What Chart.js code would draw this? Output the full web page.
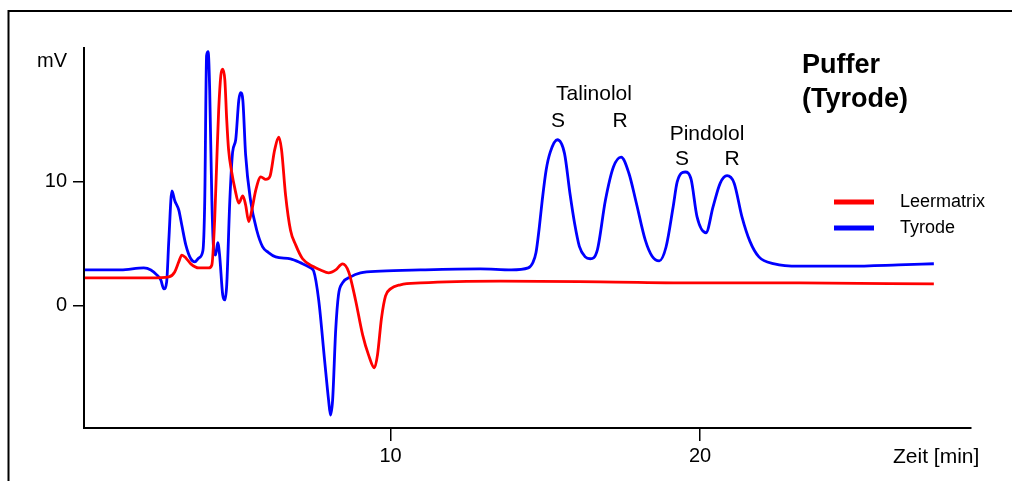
<!DOCTYPE html>
<html>
<head>
<meta charset="utf-8">
<script src="https://cdn.jsdelivr.net/npm/chart.js@4"></script>
<style>
  html, body { margin: 0; padding: 0; background: #fff; }
  #wrap { width: 1012px; height: 481px; }
</style>
</head>
<body>
<div id="wrap"><canvas id="myChart" width="1012" height="481"></canvas></div>
<script>
const FONT = 'Arial, "Liberation Sans", sans-serif';

// Tyrode (blue) trace, retention time in min / signal in mV
const tyrodeTime = [
   0.13, 1.29, 2.03, 2.26, 2.45, 2.58, 2.68, 2.77, 2.84, 2.94, 3.03, 3.16, 3.26, 3.39,
   3.55, 3.68, 3.81, 3.94, 4.0, 4.06, 4.11, 4.16, 4.23, 4.29, 4.35, 4.42, 4.48, 4.58,
   4.65, 4.71, 4.81, 4.9, 5.0, 5.1, 5.16, 5.23, 5.32, 5.48, 5.68, 5.87, 6.06, 6.29,
   6.77, 7.1, 7.42, 7.52, 7.68, 7.87, 8.0, 8.06, 8.13, 8.23, 8.32, 8.45, 8.71, 9.03,
   9.68, 10.97, 12.9, 13.9, 14.45, 14.6, 14.7, 14.8, 14.9, 15.03, 15.16, 15.39, 15.62,
   15.8, 15.95, 16.1, 16.29, 16.45, 16.68, 16.94, 17.2, 17.45, 17.7, 17.94, 18.23,
   18.45, 18.68, 18.9, 19.13, 19.26, 19.52, 19.71, 19.9, 20.19, 20.42, 20.65, 20.87,
   21.1, 21.35, 21.61, 21.9, 22.4, 23.2, 24.8, 26.4, 27.55
];
const tyrodeMv = [
   2.9, 2.9, 3.06, 2.9, 2.5, 2.1, 1.37, 1.94, 5.3, 9.27, 8.5, 7.74, 6.5, 4.9,
   3.8, 3.55, 3.87, 4.44, 8.5, 20.2, 20.5, 17.4, 8.5, 4.5, 4.1, 5.1, 4.1, 0.9,
   0.48, 1.7, 8.5, 12.4, 13.4, 16.6, 17.2, 16.6, 12.2, 8.5, 6.1, 4.76, 4.3, 3.95,
   3.8, 3.47, 3.06, 2.8, 0.48, -4.35, -7.6, -8.8, -7.6, -1.94, 0.89, 1.85, 2.34, 2.66,
   2.8, 2.9, 2.98, 2.9, 3.06, 3.5, 4.3, 6.2, 8.5, 11.0, 12.4, 13.4, 12.3,
   9.0, 6.6, 4.8, 3.95, 3.8, 4.5, 8.5, 11.2, 12.0, 10.7, 8.3, 5.3,
   4.0, 3.63, 4.75, 8.0, 10.0, 10.8, 10.2, 7.2, 5.9, 8.0, 9.9, 10.5,
   9.9, 7.2, 5.2, 3.95, 3.39, 3.2, 3.2, 3.3, 3.4
];

// Leermatrix (red) trace
const leerTime = [
   0.13, 2.26, 2.84, 3.03, 3.16, 3.26, 3.39, 3.55, 3.81, 4.13, 4.23, 4.32, 4.39, 4.45,
   4.52, 4.58, 4.65, 4.71, 4.77, 4.87, 4.97, 5.1, 5.23, 5.32, 5.42, 5.52, 5.65, 5.81,
   5.97, 6.1, 6.26, 6.39, 6.48, 6.61, 6.77, 6.94, 7.16, 7.52, 7.74, 8.0, 8.23, 8.45,
   8.65, 8.87, 9.1, 9.29, 9.48, 9.58, 9.71, 9.84, 10.0, 10.32, 10.97, 13.55, 16.77,
   19.97, 23.2, 27.55
];
const leerMv = [
   2.26, 2.26, 2.34, 2.74, 3.55, 4.1, 3.87, 3.39, 3.06, 3.06, 3.3, 6.9, 11.8, 15.8,
   18.6, 19.1, 18.2, 15.0, 12.6, 10.8, 9.5, 8.3, 8.87, 8.15, 6.8, 7.7, 9.35, 10.4,
   10.2, 10.4, 12.6, 13.6, 12.6, 8.95, 6.1, 4.9, 3.8, 3.15, 2.9, 2.66, 2.9, 3.39,
   2.74, 0.48, -2.34, -3.95, -5.0, -3.95, -0.97, 0.8, 1.37, 1.7, 1.85, 2.0, 1.94,
   1.85, 1.85, 1.77
];

const xTicks = [10, 20];
const yTicks = [0, 10];

const ctx = document.getElementById("myChart").getContext("2d");

const toPoints = (ts, vs) => ts.map((t, i) => ({ x: t, y: vs[i] }));

// frame, axis captions, peak names, title and legend
const decorations = {
   id: 'decorations',
   afterDraw(chart) {
      const c = chart.ctx;
      c.save();
      c.strokeStyle = '#000';
      c.lineWidth = 2;
      c.beginPath();
      c.moveTo(8.5, 481);
      c.lineTo(8.5, 11);
      c.lineTo(1012, 11);
      c.stroke();

      c.fillStyle = '#000';
      c.textBaseline = 'alphabetic';

      c.font = '20px ' + FONT;
      c.textAlign = 'center';
      c.fillText('mV', 52, 67);

      c.font = '21px ' + FONT;
      c.textAlign = 'left';
      c.fillText('Zeit [min]', 893, 463);

      c.textAlign = 'center';
      c.fillText('Talinolol', 594, 100);
      c.fillText('S', 558, 127);
      c.fillText('R', 620, 127);
      c.fillText('Pindolol', 707, 140);
      c.fillText('S', 682, 165);
      c.fillText('R', 732, 165);

      c.font = 'bold 27px ' + FONT;
      c.textAlign = 'left';
      c.fillText('Puffer', 802, 73);
      c.fillText('(Tyrode)', 802, 107);

      // legend
      const items = [['Leermatrix', '#ff0000', 202], ['Tyrode', '#0000ff', 228]];
      c.font = '18px ' + FONT;
      c.textBaseline = 'middle';
      items.forEach(([label, color, y]) => {
         c.strokeStyle = color;
         c.lineWidth = 5;
         c.beginPath();
         c.moveTo(834, y);
         c.lineTo(874, y);
         c.stroke();
         c.fillText(label, 900, y);
      });
      c.restore();
   }
};

const data = {
   datasets: [
      {
         label: "Leermatrix",
         data: toPoints(leerTime, leerMv),
         borderColor: "#ff0000",
      },
      {
         label: "Tyrode",
         data: toPoints(tyrodeTime, tyrodeMv),
         borderColor: "#0000ff",
      }
   ]
};

const config = {
   type: 'line',
   data: data,
   plugins: [decorations],
   options: {
      responsive: false,
      animation: false,
      layout: { padding: { left: 0, top: 48, right: 41, bottom: 0 } },
      elements: {
         point: { radius: 0 },
         line: { borderWidth: 2.8, cubicInterpolationMode: 'monotone', fill: false }
      },
      plugins: {
         legend: { display: false },
         tooltip: { enabled: false }
      },
      scales: {
         x: {
            type: 'linear',
            min: 0.1,
            max: 28.75,
            afterFit: s => { s.height = 53; },
            afterBuildTicks: s => { s.ticks = xTicks.map(v => ({ value: v })); },
            border: { color: '#000', width: 2 },
            grid: { drawOnChartArea: false, tickLength: 13, tickColor: '#000', lineWidth: 1.5 },
            ticks: { color: '#000', padding: 3, maxRotation: 0, font: { family: FONT, size: 20 } }
         },
         y: {
            min: -9.85,
            max: 20.8,
            afterFit: s => { s.width = 84; },
            afterBuildTicks: s => { s.ticks = yTicks.map(v => ({ value: v })); },
            border: { color: '#000', width: 2 },
            grid: { drawOnChartArea: false, tickLength: 11, tickColor: '#000', lineWidth: 1.5 },
            ticks: { color: '#000', padding: 6, font: { family: FONT, size: 20 } }
         }
      }
   }
};

const myChart = new Chart(ctx, config);
</script>
</body>
</html>
